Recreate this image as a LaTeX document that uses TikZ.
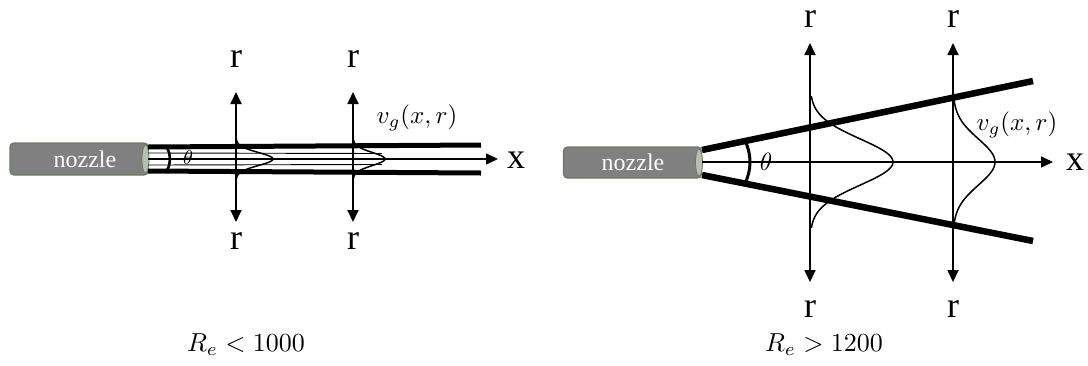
\documentclass[tikz,border=0pt]{standalone}
\usepackage{fontspec}
\setmainfont{Liberation Serif}
\usetikzlibrary{arrows.meta}
\definecolor{nozfill}{HTML}{808080}
\definecolor{nozedge}{HTML}{6E7A66}
\definecolor{nozcap}{HTML}{B9BDB2}
\tikzset{
 nozzlebox/.style={draw=nozedge, line width=1.3pt, fill=nozfill, rounded corners=4pt,
   minimum width=138pt, inner sep=0pt, text=white, font=\fontsize{24}{26}\selectfont},
 nozzlecap/.style={draw=nozedge, line width=0.8pt, fill=nozcap},
 jetnarrow/.style={line width=5pt},
 jetwide/.style={line width=6.5pt},
 thinline/.style={line width=0.9pt},
 xaxis/.style={line width=1.6pt, -{Triangle[length=12pt,width=11pt]}},
 raxis/.style={line width=1.8pt, {Triangle[length=12pt,width=11pt]}-{Triangle[length=12pt,width=11pt]}},
 lbl/.style={font=\fontsize{36}{38}\selectfont, inner sep=0pt},
 prof/.style={line width=1.5pt},
 anglearc/.style={line width=2.6pt},
}
\begin{document}
\begin{tikzpicture}[x=1pt,y=-1pt]
\useasboundingbox (0,0) rectangle (1088,365);

% ---------------- left panel ----------------
\node[nozzlebox, minimum height=32pt] (noz1) at (79,159) {\hspace*{12pt}nozzle};
\draw[nozzlecap] (145.5,159) ellipse[x radius=3.5, y radius=14];
\coordinate (a1) at (148,147);
\coordinate (b1) at (481,145);
\coordinate (c1) at (148,171);
\coordinate (d1) at (481,173);
\draw[jetnarrow] (a1) -- (b1);
\draw[jetnarrow] (c1) -- (d1);
\coordinate (t1s) at (148,153);
\coordinate (t1e) at (382,153.5);
\coordinate (t2s) at (148,165);
\coordinate (t2e) at (382,164.5);
\draw[thinline] (t1s) -- (t1e);
\draw[thinline] (t2s) -- (t2e);
\coordinate (o1) at (148,159);
\coordinate (x1) at (498,159);
\draw[xaxis] (o1) -- (x1);
\node[lbl] (xl1) at (516,160) {x};
\draw[anglearc] (o1) ++(-30:22) arc[start angle=-30,end angle=30,radius=22];
\node[scale=2.0] (th1) at (188,158) {$\theta$};

\coordinate (r1t) at (236,92);
\coordinate (r1b) at (236,222);
\draw[raxis] (r1t) -- (r1b);
\node[lbl] (r1u) at (236,59) {r};
\node[lbl] (r1d) at (236,241) {r};
\draw[prof] plot[domain=-30:30, samples=81, smooth] ({236+37*exp(-(\x*\x)/85)}, {159+\x});

\coordinate (r2t) at (353,92);
\coordinate (r2b) at (353,222);
\draw[raxis] (r2t) -- (r2b);
\node[lbl] (r2u) at (353,59) {r};
\node[lbl] (r2d) at (353,241) {r};
\draw[prof] plot[domain=-30:30, samples=81, smooth] ({353+32*exp(-(\x*\x)/85)}, {159+\x});

\node[scale=2.5] (vg1) at (417,118) {$v_g(x,r)$};
\node[scale=2.6] (re1) at (246,345) {$R_e<1000$};

% ---------------- right panel ----------------
\node[nozzlebox, minimum height=31pt] (noz2) at (632.5,162.5) {\hspace*{1pt}nozzle};
\draw[nozzlecap] (699,162.5) ellipse[x radius=3.5, y radius=13.5];
\coordinate (a2) at (702,150);
\coordinate (b2) at (1033,81);
\coordinate (c2) at (702,175);
\coordinate (d2) at (1033,241);
\draw[jetwide] (a2) -- (b2);
\draw[jetwide] (c2) -- (d2);
\coordinate (o2) at (702,162);
\coordinate (x2) at (1053,162);
\draw[xaxis] (o2) -- (x2);
\node[lbl] (xl2) at (1075,162) {x};
\draw[anglearc, line width=3pt] (o2) ++(-28:48) arc[start angle=-28,end angle=28,radius=48];
\node[scale=2.5] (th2) at (766,162) {$\theta$};

\coordinate (r3t) at (810,43);
\coordinate (r3b) at (810,282);
\draw[raxis] (r3t) -- (r3b);
\node[lbl] (r3u) at (810,19) {r};
\node[lbl] (r3d) at (810,309) {r};
\draw[prof] plot[domain=-66:66, samples=121, smooth] ({810+83*exp(-(\x*\x)/1058)}, {162+\x});

\coordinate (r4t) at (953,43);
\coordinate (r4b) at (953,282);
\draw[raxis] (r4t) -- (r4b);
\node[lbl] (r4u) at (953,19) {r};
\node[lbl] (r4d) at (953,309) {r};
\draw[prof] plot[domain=-62:62, samples=121, smooth] ({953+42*exp(-(\x*\x)/1058)}, {162+\x});

\node[scale=2.5] (vg2) at (1017,125) {$v_g(x,r)$};
\node[scale=2.6] (re2) at (824,345) {$R_e>1200$};
\end{tikzpicture}
\end{document}
